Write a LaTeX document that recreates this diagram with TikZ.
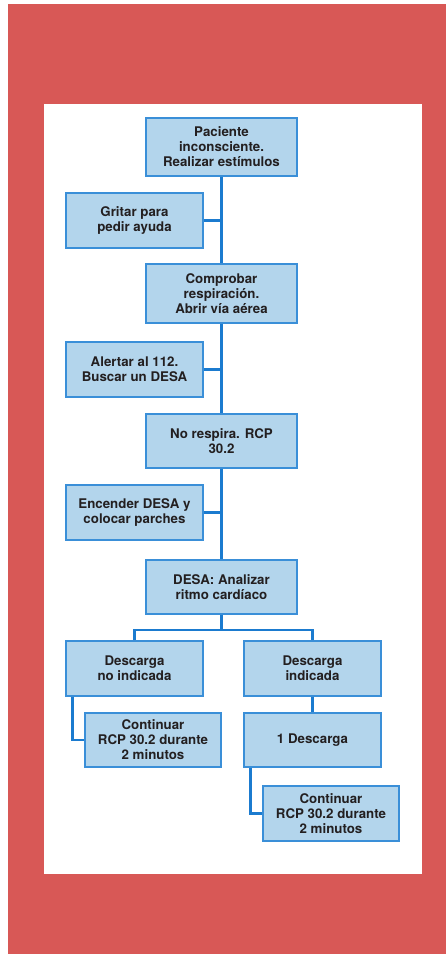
\documentclass[tikz,border=0pt]{standalone}
\usepackage{fontspec}
\setmainfont{TeX Gyre Heros}
\definecolor{redbg}{HTML}{D85856}
\definecolor{boxfill}{HTML}{B3D5EC}
\definecolor{boxline}{HTML}{3A8FD8}
\definecolor{conn}{HTML}{1B7BCF}
\definecolor{txt}{HTML}{231F20}
\tikzset{
  stepbox/.style={draw=boxline, line width=1.4pt, fill=boxfill, align=center,
    inner sep=0pt, text=txt, font=\fontsize{13.3}{15}\selectfont\bfseries},
  wide/.style={stepbox, minimum width=151pt},
  narrow/.style={stepbox, minimum width=137pt},
  link/.style={draw=conn, line width=2.6pt}
}
\begin{document}
\begin{tikzpicture}[x=1pt,y=-1pt]
\useasboundingbox (0,0) rectangle (446,954);
\fill[white] (0,0) rectangle (446,954);
\fill[redbg] (8,4) rectangle (446,954);
\fill[white] (44,104) rectangle (421.5,874);

\node[wide, minimum height=58pt] (top) at (221.5,147) {Paciente\\inconsciente.\\Realizar estímulos};
\node[narrow, minimum height=55pt] (gritar) at (134.5,220.5) {Gritar para\\pedir ayuda};
\node[wide, minimum height=59pt] (comprobar) at (221.5,293.5) {Comprobar\\respiración.\\Abrir vía aérea};
\node[narrow, minimum height=55pt] (alertar) at (134.5,369.5) {Alertar al 112.\\Buscar un DESA};
\node[wide, minimum height=54pt] (norespira) at (221.5,441) {No respira. RCP\\30.2};
\node[narrow, minimum height=55pt] (encender) at (134.5,512.5) {Encender DESA y\\colocar parches};
\node[wide, minimum height=54pt] (desa) at (221.5,587) {DESA: Analizar\\ritmo cardíaco};
\node[narrow, minimum height=55pt] (noind) at (134.5,668.5) {Descarga\\no indicada};
\node[narrow, minimum height=55pt] (ind) at (312.5,668.5) {Descarga\\indicada};
\node[stepbox, minimum width=136pt, minimum height=54pt] (cont1) at (153,740) {Continuar\\RCP 30.2 durante\\2 minutos};
\node[narrow, minimum height=54pt] (una) at (312.5,740) {1 Descarga};
\node[stepbox, minimum width=136pt, minimum height=55pt] (cont2) at (331,813.5) {Continuar\\RCP 30.2 durante\\2 minutos};

\coordinate (split) at (221.5,630);

\draw[link] (top.south) -- (comprobar.north);
\draw[link] (comprobar.south) -- (norespira.north);
\draw[link] (norespira.south) -- (desa.north);
\draw[link] (gritar.east) -- (gritar.east -| top.south);
\draw[link] (alertar.east) -- (alertar.east -| top.south);
\draw[link] (encender.east) -- (encender.east -| top.south);
\draw[link] (desa.south) -- (split);
\draw[link] (split) -| (noind.north);
\draw[link] (split) -| (ind.north);
\draw[link] ([xshift=7pt]noind.south west) |- (cont1.west);
\draw[link] (ind.south) -- (una.north);
\draw[link] ([xshift=7pt]una.south west) |- (cont2.west);
\end{tikzpicture}
\end{document}
